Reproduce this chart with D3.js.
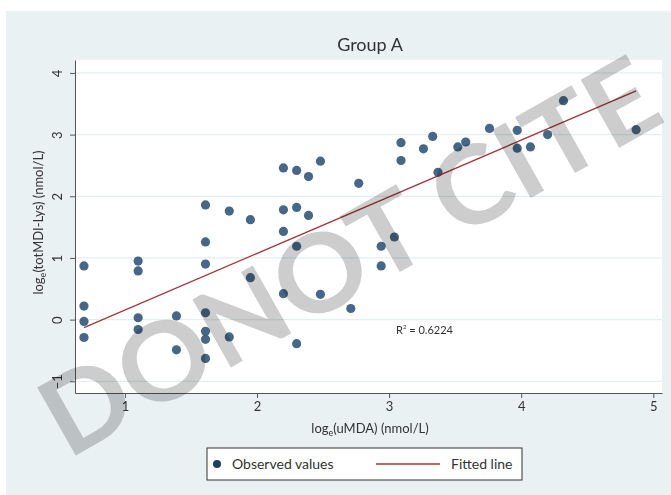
<!DOCTYPE html>
<html>
<head>
<meta charset="utf-8">
<script src="https://cdn.jsdelivr.net/npm/d3@7"></script>
<style>
  body { margin: 0; background: #fff; }
  text { font-family: Lato, "Open Sans", sans-serif; }
</style>
</head>
<body>
<div id="chart"></div>
<script>
// Data (natural logs)
const obsX = [
  0.69, 0.69, 0.69, 0.69,
  1.10, 1.10, 1.10, 1.10,
  1.39, 1.39,
  1.61, 1.61, 1.61, 1.61, 1.61, 1.61, 1.61,
  1.79, 1.79,
  1.95, 1.95,
  2.20, 2.20, 2.20, 2.20,
  2.30, 2.30, 2.30, 2.30,
  2.39, 2.39,
  2.48, 2.48,
  2.71, 2.77,
  2.94, 2.94, 3.04,
  3.09, 3.09, 3.26, 3.33, 3.37,
  3.52, 3.58, 3.76,
  3.97, 3.97, 4.07, 4.20, 4.32, 4.87
];
const obsY = [
  0.87, 0.22, -0.03, -0.29,
  0.95, 0.79, 0.03, -0.16,
  0.06, -0.49,
  1.86, 1.26, 0.90, 0.11, -0.19, -0.32, -0.63,
  1.76, -0.28,
  1.62, 0.68,
  2.46, 1.78, 1.43, 0.42,
  2.42, 1.82, 1.19, -0.39,
  2.32, 1.69,
  2.57, 0.41,
  0.18, 2.21,
  1.19, 0.87, 1.34,
  2.87, 2.58, 2.77, 2.97, 2.39,
  2.80, 2.88, 3.10,
  3.07, 2.78, 2.80, 3.00, 3.55, 3.08
];
const fitX = [0.69, 4.87];
const fitY = [-0.13, 3.71];
const xTicks = [1, 2, 3, 4, 5];
const yTicks = [-1, 0, 1, 2, 3, 4];
const r2Label = "0.6224";

const W = 671, H = 495;
const plot = { left: 75, right: 662, top: 60, bottom: 393 };

const svg = d3.select('#chart').append('svg')
    .attr('width', W)
    .attr('height', H);

// outer background
svg.append('rect')
    .attr('x', 6).attr('y', 11)
    .attr('width', W - 6).attr('height', H - 11)
    .attr('fill', '#eaf1f3');

const x = d3.scaleLinear().domain([0.622, 5.066]).range([plot.left, plot.right]);
const y = d3.scaleLinear().domain([-1.19, 4.21]).range([plot.bottom, plot.top]);

// plot region
svg.append('rect')
    .attr('x', plot.left).attr('y', plot.top)
    .attr('width', plot.right - plot.left)
    .attr('height', plot.bottom - plot.top)
    .attr('fill', '#ffffff');

// gridlines
svg.append('g')
    .selectAll('line')
    .data(yTicks)
    .join('line')
    .attr('x1', plot.left).attr('x2', plot.right)
    .attr('y1', d => y(d)).attr('y2', d => y(d))
    .attr('stroke', '#e6eef1')
    .attr('stroke-width', 1.2);

// axes
const xAxis = svg.append('g')
    .attr('transform', `translate(0,${plot.bottom})`)
    .call(d3.axisBottom(x).tickValues(xTicks).tickFormat(d3.format('d'))
        .tickSize(5).tickPadding(4).tickSizeOuter(0));
xAxis.select('.domain').attr('stroke', '#555');
xAxis.selectAll('.tick line').attr('stroke', '#555');
xAxis.selectAll('.tick text')
    .attr('fill', '#333')
    .style('font-size', '13px')
    .style('font-family', 'Lato, sans-serif');

const yAxis = svg.append('g')
    .attr('transform', `translate(${plot.left},0)`)
    .call(d3.axisLeft(y).tickValues(yTicks).tickFormat(d3.format('d'))
        .tickSize(5).tickSizeOuter(0));
yAxis.select('.domain').attr('stroke', '#555');
yAxis.selectAll('.tick line').attr('stroke', '#555');
yAxis.selectAll('.tick text')
    .attr('fill', '#333')
    .attr('x', 0).attr('dy', 0)
    .attr('transform', 'translate(-13,0) rotate(-90)')
    .attr('text-anchor', 'middle')
    .style('font-size', '13px')
    .style('font-family', 'Lato, sans-serif');

// points
const pts = obsX.map((v, i) => ({ x: v, y: obsY[i] }));
svg.append('g')
    .selectAll('circle')
    .data(pts)
    .join('circle')
    .attr('cx', d => x(d.x))
    .attr('cy', d => y(d.y))
    .attr('r', 4.6)
    .attr('fill', '#32577a')
    .attr('fill-opacity', 0.9);

// fitted line
svg.append('line')
    .attr('x1', x(fitX[0])).attr('y1', y(fitY[0]))
    .attr('x2', x(fitX[1])).attr('y2', y(fitY[1]))
    .attr('stroke', '#a3353a')
    .attr('stroke-width', 1.3);

// R squared
const r2 = svg.append('text')
    .attr('x', 396).attr('y', 334)
    .attr('fill', '#333')
    .style('font-size', '11px');
r2.append('tspan').text('R');
r2.append('tspan').attr('dy', -5).style('font-size', '6px').text('2');
r2.append('tspan').attr('dy', 5).text(' = ' + r2Label);

// title
svg.append('text')
    .attr('x', 370).attr('y', 51)
    .attr('text-anchor', 'middle')
    .attr('fill', '#333')
    .style('font-size', '18px')
    .text('Group A');

// axis titles
const xt = svg.append('text')
    .attr('x', 370).attr('y', 433)
    .attr('text-anchor', 'middle')
    .attr('fill', '#333')
    .style('font-size', '13px');
xt.append('tspan').text('log');
xt.append('tspan').attr('dy', 3).style('font-size', '9px').text('e');
xt.append('tspan').attr('dy', -3).text('(uMDA) (nmol/L)');

const yt = svg.append('text')
    .attr('transform', `translate(43,${(plot.top + plot.bottom) / 2 - 4}) rotate(-90)`)
    .attr('text-anchor', 'middle')
    .attr('fill', '#333')
    .style('font-size', '13px');
yt.append('tspan').text('log');
yt.append('tspan').attr('dy', 3).style('font-size', '9px').text('e');
yt.append('tspan').attr('dy', -3).text('(totMDI-Lys) (nmol/L)');

// watermark (multiplied over the chart, as in the source image)
svg.append('text')
    .attr('transform', 'translate(368,290) rotate(-29.5)')
    .attr('text-anchor', 'middle')
    .attr('textLength', 690)
    .attr('lengthAdjust', 'spacingAndGlyphs')
    .attr('fill', '#cdcdcd')
    .style('mix-blend-mode', 'multiply')
    .style('font-size', '108px')
    .style('font-weight', 'bold')
    .style('font-family', 'Lato, "Open Sans", sans-serif')
    .text('DONOT CITE');

// legend
const lg = svg.append('g');
lg.append('rect')
    .attr('x', 207).attr('y', 448)
    .attr('width', 315).attr('height', 32)
    .attr('fill', '#fff')
    .attr('stroke', '#333')
    .attr('stroke-width', 1);
lg.append('circle')
    .attr('cx', 217).attr('cy', 464).attr('r', 4)
    .attr('fill', '#1f3f5f');
lg.append('text')
    .attr('x', 232).attr('y', 469)
    .attr('fill', '#333')
    .style('font-size', '14px')
    .text('Observed values');
lg.append('line')
    .attr('x1', 376).attr('x2', 440)
    .attr('y1', 464).attr('y2', 464)
    .attr('stroke', '#a3353a')
    .attr('stroke-width', 1.3);
lg.append('text')
    .attr('x', 451).attr('y', 469)
    .attr('fill', '#333')
    .style('font-size', '14px')
    .text('Fitted line');
</script>
</body>
</html>
